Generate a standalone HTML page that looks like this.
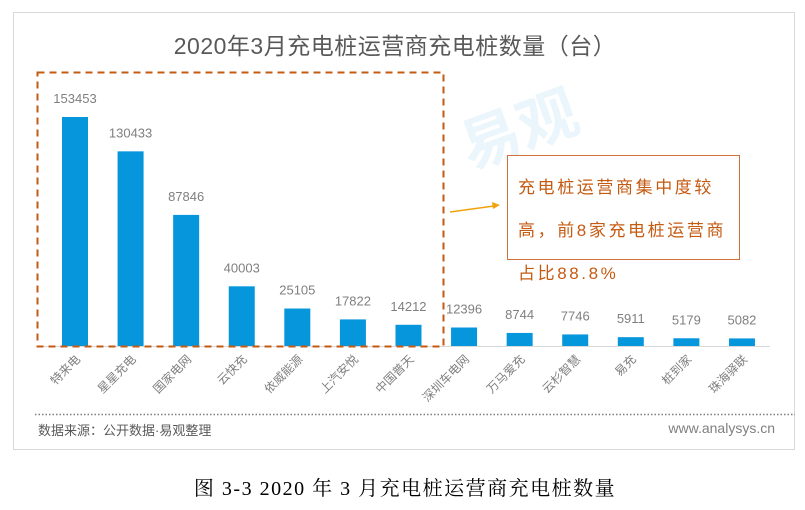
<!DOCTYPE html>
<html><head><meta charset="utf-8">
<style>
body{margin:0;background:#fff;width:805px;height:505px;overflow:hidden;font-family:"Liberation Sans","Noto Sans CJK SC",sans-serif}
svg text{font-family:"Liberation Sans","Noto Sans CJK SC",sans-serif}
</style></head><body>
<svg width="805" height="505">
<rect x="13.5" y="12.5" width="781" height="437" fill="#fff" stroke="#d9d9d9"/>
<text x="395" y="54" font-size="23" fill="#595959" text-anchor="middle" letter-spacing="0.5">2020年3月充电桩运营商充电桩数量（台）</text>
<text x="470" y="170" font-size="60" fill="#eaf6fc" font-weight="bold" transform="rotate(-20 470 170)">易观</text>
<g id="bars"></g>
<line x1="37" y1="346.5" x2="770" y2="346.5" stroke="#d9d9d9"/>
<rect x="37.5" y="72.5" width="406" height="274" fill="none" stroke="#c55a11" stroke-width="2" stroke-dasharray="7,5"/>
<line x1="450" y1="212" x2="494" y2="206" stroke="#f0a30a" stroke-width="1.5"/>
<polygon points="500,205 492,202 493,209" fill="#f0a30a"/>
<rect x="507.5" y="155.5" width="232" height="104" fill="#fff" stroke="#d0703a"/>
<g font-size="17" fill="#c55a11" letter-spacing="2.6">
<text x="518" y="193">充电桩运营商集中度较</text>
<text x="518" y="236">高，前8家充电桩运营商</text>
<text x="518" y="279">占比88.8%</text>
</g>
<line x1="35" y1="414.5" x2="795" y2="414.5" stroke="#7f7f7f" stroke-width="1.5" stroke-dasharray="1.5,2"/>
<text x="38" y="435" font-size="13" fill="#595959">数据来源：公开数据·易观整理</text>
<text x="775" y="433" font-size="14" fill="#7f7f7f" text-anchor="end">www.analysys.cn</text>
<text x="405" y="495" font-size="20" fill="#000" text-anchor="middle" letter-spacing="1.5" style="font-family:'Liberation Serif','Noto Serif CJK SC',serif">图 3-3 2020 年 3 月充电桩运营商充电桩数量</text>
</svg>
<script>
const categories=["特来电","星星充电","国家电网","云快充","依威能源","上汽安悦","中国普天","深圳车电网","万马爱充","云杉智慧","易充","桩到家","珠海驿联"];
const values=[153453,130433,87846,40003,25105,17822,14212,12396,8744,7746,5911,5179,5082];
const baseY=346, x0=75, step=55.58, bw=26;
const yScale=v=>baseY-v*229/153453;
const xScale=i=>x0+i*step;
const g=document.getElementById('bars');
const ns="http://www.w3.org/2000/svg";
values.forEach((v,i)=>{
  const cx=xScale(i);
  const r=document.createElementNS(ns,'rect');
  r.setAttribute('x',cx-bw/2);r.setAttribute('y',yScale(v));
  r.setAttribute('width',bw);r.setAttribute('height',baseY-yScale(v));
  r.setAttribute('fill','#0596dc');
  
  
  g.appendChild(r);
  const t=document.createElementNS(ns,'text');
  t.setAttribute('x',cx);t.setAttribute('y',yScale(v)-14);
  t.setAttribute('font-size','13');t.setAttribute('fill','#7f7f7f');t.setAttribute('text-anchor','middle');
  t.textContent=v;
  
  
  g.appendChild(t);
  const l=document.createElementNS(ns,'text');
  l.setAttribute('x',cx+6);l.setAttribute('y',360);
  l.setAttribute('font-size','12');l.setAttribute('fill','#7f7f7f');l.setAttribute('text-anchor','end');
  l.setAttribute('transform','rotate(-45 '+(cx+6)+' 360)');
  l.textContent=categories[i];
  
  
  g.appendChild(l);
});
</script>
</body></html>
